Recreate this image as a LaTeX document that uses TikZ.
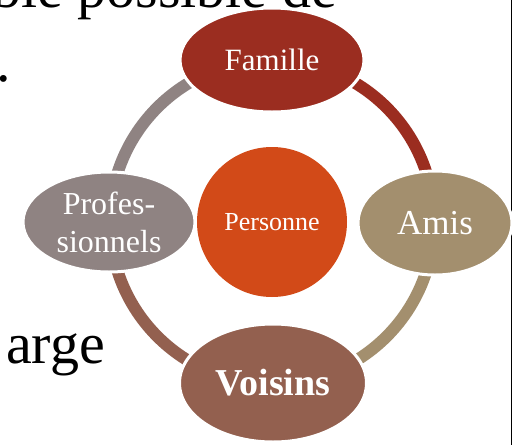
\documentclass[tikz,border=0pt]{standalone}
\usepackage{fontspec}
\setmainfont{Liberation Serif}
\usetikzlibrary{shapes.geometric}
\definecolor{famc}{HTML}{9B2D20}
\definecolor{amic}{HTML}{A38F6E}
\definecolor{voic}{HTML}{93604F}
\definecolor{proc}{HTML}{8F8382}
\definecolor{perc}{HTML}{D24A18}
\begin{document}
\begin{tikzpicture}[x=1pt,y=-1pt,
  bub/.style={ellipse, draw=white, line width=3pt, inner sep=0pt, text=white, align=center},
  ringseg/.style={line width=12pt},
  bigtext/.style={font=\fontsize{58}{62}\selectfont, inner sep=0pt}]
\useasboundingbox (0,0) rectangle (517,445);
\clip (0,0) rectangle (517,445);
\fill[white] (0,0) rectangle (517,445);
\coordinate (rt) at (511.5,0);
\coordinate (rb) at (511.5,445);
\draw[line width=1.3pt] (rt) -- (rb);
% centre
\node[circle, fill=perc, minimum size=150pt, inner sep=0pt, text=white,
      font=\fontsize{26}{30}\selectfont] (P) at (272,222) {Personne};
% ring
\draw[ringseg, draw=famc] ([shift={(0:162)}]P.center) arc[start angle=0, end angle=-90, radius=162];
\draw[ringseg, draw=proc] ([shift={(-90:162)}]P.center) arc[start angle=-90, end angle=-180, radius=162];
\draw[ringseg, draw=voic] ([shift={(180:162)}]P.center) arc[start angle=180, end angle=90, radius=162];
\draw[ringseg, draw=amic] ([shift={(90:162)}]P.center) arc[start angle=90, end angle=0, radius=162];
% outer bubbles
\node[bub, fill=famc, minimum width=184pt, minimum height=104pt,
      font=\fontsize{31}{36}\selectfont] (F) at (272,60) {Famille};
\node[bub, fill=amic, minimum width=154pt, minimum height=104pt,
      font=\fontsize{35}{40}\selectfont] (A) at (435,223) {Amis};
\node[bub, fill=proc, minimum width=172pt, minimum height=100pt,
      font=\fontsize{32}{38}\selectfont] (R) at (109,222) {Profes-\\sionnels};
\node[bub, fill=voic, minimum width=187pt, minimum height=118pt,
      font=\bfseries\fontsize{38}{42}\selectfont] (V) at (273,383) {Voisins};
% background slide text (partly cut by the frame)
\node[bigtext, anchor=base west] (t1) at (-8,7) {ble possible de};
\node[bigtext, anchor=base west] (t2) at (-4,81) {.};
\node[bigtext, anchor=base east] (t3) at (105,363) {arge};
\end{tikzpicture}
\end{document}
